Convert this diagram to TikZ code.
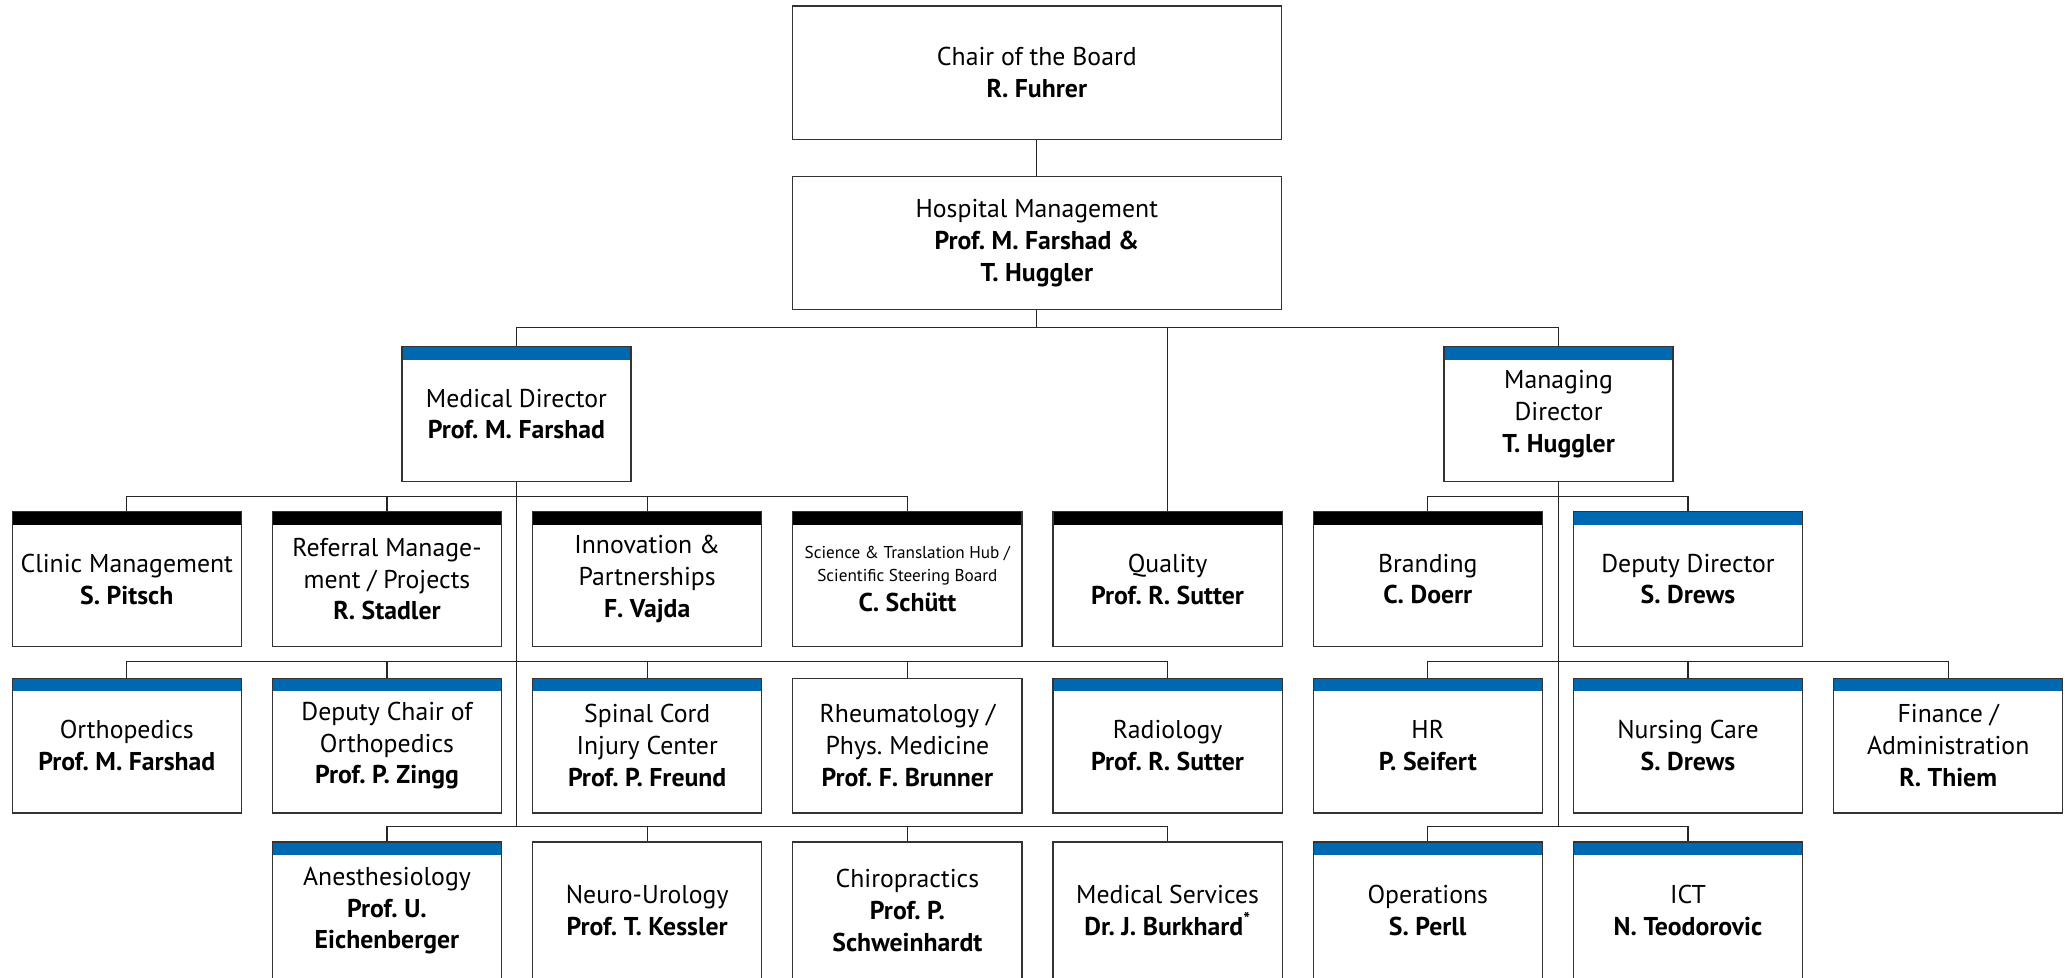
\documentclass[tikz,border=0pt]{standalone}
\usepackage{fontspec}
\setmainfont{PT Sans}
\usetikzlibrary{positioning}
\definecolor{barblue}{RGB}{0,103,177}
\tikzset{
	orgnode/.style = {draw=black!80, line width=1pt, fill=white, align=center,
		text centered, inner sep=0pt, anchor=north, minimum width=173.5pt,
		minimum height=102pt, font=\fontsize{19.5}{24}\selectfont\frenchspacing},
	org_w/.style = {orgnode},% box, no bar
	org_b/.style = {orgnode, path picture={\fill[barblue]
		(path picture bounding box.north west) rectangle
		([yshift=-10pt]path picture bounding box.north east);}},% box, blue bar
	org_n/.style = {orgnode, path picture={\fill[black]
		(path picture bounding box.north west) rectangle
		([yshift=-10pt]path picture bounding box.north east);}},% box, black bar
	link/.style = {draw=black!85, line width=0.8pt}
}
\newcommand{\nm}[1]{\textbf{#1}}
\newcommand{\sml}[1]{{\fontsize{13}{17}\selectfont #1}}

\begin{document}
\begin{tikzpicture}[x=1pt,y=-1pt]
	\useasboundingbox (0,0) rectangle (1568,740);
	% bus levels
	\coordinate (bus1) at (0,248);
	\coordinate (bus2) at (0,376);
	\coordinate (bus3) at (0,501);
	\coordinate (bus4) at (0,626);

	% top
	\node[org_w, minimum width=370pt, minimum height=101pt] (chair) at (785,4)
		{Chair of the Board\\ \nm{R. Fuhrer}};
	\node[org_w, minimum width=370pt, minimum height=101pt] (mgmt) at (785,133)
		{Hospital Management\\ \nm{Prof. M. Farshad \&}\\ \nm{T. Huggler}};
	\node[org_b] (meddir) at (391,262) {Medical Director\\ \nm{Prof. M. Farshad}};
	\node[org_b] (mandir) at (1180,262) {Managing\\ Director\\ \nm{T. Huggler}};

	% second row
	\node[org_n] (clinic) at (96,387) {Clinic Management\\ \nm{S. Pitsch}};
	\node[org_n] (referral) at (293,387) {Referral Manage-\\ ment / Projects\\ \nm{R. Stadler}};
	\node[org_n] (innov) at (490,387) {Innovation \&\\ Partnerships\\ \nm{F. Vajda}};
	\node[org_n] (science) at (687,387) {\sml{Science \& Translation Hub /}\\[-7pt]
		\sml{Scientific Steering Board}\\[-1pt] \nm{C. Schütt}};
	\node[org_n] (quality) at (884,387) {Quality\\ \nm{Prof. R. Sutter}};
	\node[org_n] (brand) at (1081,387) {Branding\\ \nm{C. Doerr}};
	\node[org_b] (deputy) at (1278,387) {Deputy Director\\ \nm{S. Drews}};

	% third row
	\node[org_b] (ortho) at (96,513) {Orthopedics\\ \nm{Prof. M. Farshad}};
	\node[org_b] (depchair) at (293,513) {Deputy Chair of\\ Orthopedics\\ \nm{Prof. P. Zingg}};
	\node[org_b] (spinal) at (490,513) {Spinal Cord\\ Injury Center\\ \nm{Prof. P. Freund}};
	\node[org_w] (rheuma) at (687,513) {Rheumatology /\\ Phys. Medicine\\ \nm{Prof. F. Brunner}};
	\node[org_b] (radio) at (884,513) {Radiology\\ \nm{Prof. R. Sutter}};
	\node[org_b] (hr) at (1081,513) {HR\\ \nm{P. Seifert}};
	\node[org_b] (nursing) at (1278,513) {Nursing Care\\ \nm{S. Drews}};
	\node[org_b] (finance) at (1475,513) {Finance /\\ Administration\\ \nm{R. Thiem}};

	% fourth row
	\node[org_b, minimum height=104pt] (anest) at (293,637) {Anesthesiology\\ \nm{Prof. U.}\\ \nm{Eichenberger}};
	\node[org_w, minimum height=104pt] (neuro) at (490,637) {Neuro-Urology\\ \nm{Prof. T. Kessler}};
	\node[org_w, minimum height=104pt] (chiro) at (687,637) {Chiropractics\\ \nm{Prof. P.}\\ \nm{Schweinhardt}};
	\node[org_w, minimum height=104pt] (medserv) at (884,637) {Medical Services\\ \nm{Dr. J. Burkhard\textsuperscript{*}}};
	\node[org_b, minimum height=104pt] (ops) at (1081,637) {Operations\\ \nm{S. Perll}};
	\node[org_b, minimum height=104pt] (ict) at (1278,637) {ICT\\ \nm{N. Teodorovic}};

	% connectors
	\draw[link] (chair) -- (mgmt);
	\draw[link] (mgmt.south) -- (mgmt.south |- bus1);
	\foreach \n in {meddir, quality, mandir}
		\draw[link] (mgmt.south |- bus1) -| (\n.north);
	\draw[link] (meddir.south) -- (meddir.south |- bus4);
	\draw[link] (mandir.south) -- (mandir.south |- bus4);
	\foreach \n in {clinic, referral, innov, science}
		\draw[link] (meddir.south |- bus2) -| (\n.north);
	\foreach \n in {ortho, depchair, spinal, rheuma, radio}
		\draw[link] (meddir.south |- bus3) -| (\n.north);
	\foreach \n in {anest, neuro, chiro, medserv}
		\draw[link] (meddir.south |- bus4) -| (\n.north);
	\foreach \n in {brand, deputy}
		\draw[link] (mandir.south |- bus2) -| (\n.north);
	\foreach \n in {hr, nursing, finance}
		\draw[link] (mandir.south |- bus3) -| (\n.north);
	\foreach \n in {ops, ict}
		\draw[link] (mandir.south |- bus4) -| (\n.north);
\end{tikzpicture}
\end{document}
